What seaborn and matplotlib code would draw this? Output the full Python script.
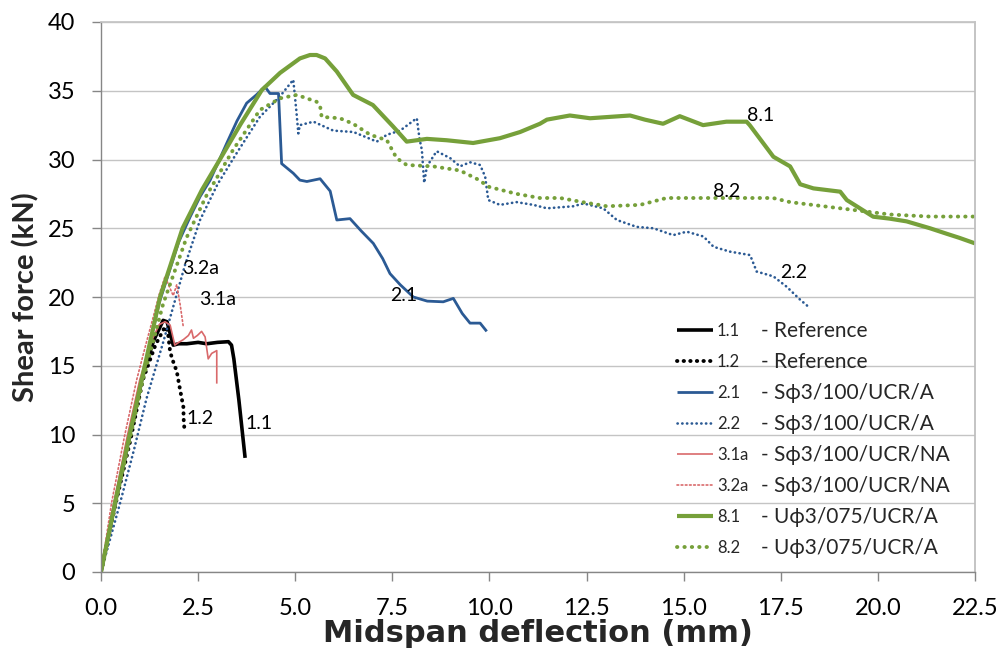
import matplotlib
matplotlib.use("Agg")
import matplotlib.pyplot as plt
import seaborn as sns
import numpy as np

# ---------------- data (deflection mm, shear force kN) ----------------
x_11 = [0, 0.36, 0.7, 1.05, 1.35, 1.6, 1.7, 1.86, 2.0, 2.21, 2.5, 2.72, 3.0, 3.28, 3.36, 3.42, 3.55, 3.71]
y_11 = [0, 5, 9.5, 14, 16.8, 18.3, 18.2, 16.5, 16.6, 16.6, 16.7, 16.6, 16.7, 16.75, 16.5, 15.5, 12.5, 8.3]

x_12 = [0, 0.38, 0.75, 1.08, 1.4, 1.65, 1.72, 1.78, 1.87, 1.95, 2.02, 2.08, 2.12, 2.13, 2.15]
y_12 = [0, 5, 9.5, 14, 16.5, 17.85, 17.5, 16.0, 15.2, 14.6, 13.5, 12.6, 12.0, 11.0, 10.3]

x_21 = [0, 0.37, 0.7, 1.05, 1.5, 2.0, 2.29, 2.55, 2.81, 3.05, 3.24, 3.5, 3.75, 4.0, 4.22, 4.35,
        4.57, 4.65, 4.95, 5.12, 5.3, 5.64, 5.9, 6.07, 6.41, 6.7, 7.01, 7.25, 7.44, 7.7, 8.04, 8.4,
        8.81, 9.07, 9.3, 9.5, 9.76, 9.93]
y_21 = [0, 5, 9.3, 14, 19.6, 24.0, 25.8, 27.3, 28.5, 30.0, 31.2, 32.8, 34.1, 34.7, 35.3, 34.8,
        34.8, 29.7, 29.0, 28.5, 28.4, 28.6, 27.7, 25.6, 25.7, 24.8, 23.9, 22.8, 21.7, 20.9, 20.0, 19.7,
        19.65, 19.9, 18.8, 18.1, 18.1, 17.5]

x_22 = [0, 0.49, 0.85, 1.17, 1.6, 2.16, 2.55, 3.0, 3.49, 4.09, 4.61, 4.95, 5.03, 5.08, 5.12, 5.47,
        5.98, 6.5, 7.1, 7.36, 7.7, 8.08, 8.13, 8.2, 8.26, 8.32, 8.39, 8.64, 8.99, 9.24, 9.5, 9.76,
        9.89, 9.97, 10.27, 10.7, 11.13, 11.48, 12.16, 12.42, 12.93, 13.28, 13.79, 14.22, 14.73,
        15.08, 15.51, 15.77, 16.19, 16.71, 16.88, 17.31, 17.65, 18.0, 18.25]
y_22 = [0, 5, 8.9, 12.6, 16.7, 22.3, 25.6, 28.2, 30.45, 33.1, 34.6, 35.8, 33.5, 31.9, 32.5, 32.75,
        32.1, 32.0, 31.3, 31.8, 32.1, 32.9, 33.0, 31.5, 30.7, 28.3, 29.5, 30.6, 30.1, 29.5, 29.8, 29.6,
        28.75, 27.05, 26.7, 26.9, 26.7, 26.45, 26.6, 26.8, 26.45, 25.6, 25.1, 25.0, 24.5,
        24.75, 24.4, 23.65, 23.3, 23.05, 21.85, 21.5, 20.75, 19.8, 19.2]

x_31a = [0, 0.33, 0.67, 1.0, 1.3, 1.5, 1.65, 1.78, 1.9, 2.0, 2.12, 2.25, 2.33, 2.38, 2.48, 2.59,
         2.68, 2.76, 2.85, 2.98, 2.98]
y_31a = [0, 5, 9.8, 14, 16.8, 18.0, 18.2, 17.96, 16.5, 16.7, 16.9, 17.2, 17.6, 17.0, 17.2, 17.5,
         17.1, 15.5, 15.9, 16.1, 13.7]

x_32a = [0, 0.27, 0.6, 0.92, 1.15, 1.35, 1.5, 1.65, 1.75, 1.86, 1.95, 2.04, 2.12]
y_32a = [0, 5, 9.8, 14, 16.5, 18.6, 20.2, 21.5, 20.8, 20.1, 20.9, 19.4, 17.8]

x_81 = [0, 0.36, 0.7, 1.05, 1.52, 2.1, 2.6, 3.06, 3.6, 4.14, 4.61, 5.12, 5.38, 5.55, 5.77, 6.07,
        6.49, 7.0, 7.52, 7.87, 8.39, 8.9, 9.58, 10.27, 10.79, 11.3, 11.48, 12.07, 12.59, 13.1,
        13.62, 14.0, 14.47, 14.9, 15.5, 16.1, 16.62, 16.7, 17.31, 17.74, 18.0, 18.34, 19.03, 19.2,
        19.88, 20.3, 20.74, 21.34, 21.77, 22.1, 22.5]
y_81 = [0, 5, 9.5, 14, 20, 25, 27.8, 30, 32.6, 35.05, 36.3, 37.35, 37.6, 37.6, 37.35, 36.4,
        34.7, 33.96, 32.4, 31.3, 31.5, 31.4, 31.2, 31.55, 32.0, 32.6, 32.9, 33.2, 33.0, 33.1,
        33.2, 32.9, 32.6, 33.15, 32.5, 32.75, 32.75, 32.5, 30.2, 29.5, 28.2, 27.9, 27.66, 27.05,
        25.84, 25.7, 25.5, 25.0, 24.6, 24.3, 23.9]

x_82 = [0, 0.37, 0.72, 1.08, 1.6, 2.2, 2.7, 3.4, 4.09, 4.61, 5.04, 5.55, 5.64, 5.68, 6.15, 6.49,
        6.93, 7.36, 7.61, 7.87, 8.55, 9.24, 9.67, 10.0, 10.7, 11.3, 11.82, 12.4, 13.02, 13.88,
        14.56, 15.5, 16.62, 17.3, 17.74, 18.6, 19.46, 20.31, 21.34, 22.5]
y_82 = [0, 5, 9.4, 14, 19.5, 24.3, 27.3, 30.7, 33.6, 34.45, 34.7, 34.2, 33.9, 33.1, 33.0, 32.6,
        31.8, 31.4, 30.1, 29.6, 29.5, 29.2, 28.6, 28.0, 27.5, 27.2, 27.2, 26.9, 26.6, 26.7,
        27.2, 27.2, 27.2, 27.2, 26.9, 26.6, 26.3, 26.0, 25.85, 25.85]

series_ids = ["1.1", "1.2", "2.1", "2.2", "3.1a", "3.2a", "8.1", "8.2"]
series_desc = ["- Reference", "- Reference", "- S\u03d53/100/UCR/A", "- S\u03d53/100/UCR/A",
               "- S\u03d53/100/UCR/NA", "- S\u03d53/100/UCR/NA", "- U\u03d53/075/UCR/A", "- U\u03d53/075/UCR/A"]

x_ticks = [0.0, 2.5, 5.0, 7.5, 10.0, 12.5, 15.0, 17.5, 20.0, 22.5]
y_ticks = [0, 5, 10, 15, 20, 25, 30, 35, 40]

# curve-end annotations: (text, x, y)
annotations = [("1.1", 3.73, 10.8), ("1.2", 2.21, 11.2), ("2.1", 7.44, 20.1), ("2.2", 17.48, 21.8),
               ("8.1", 16.63, 33.2), ("8.2", 15.76, 27.7), ("3.2a", 2.09, 22.1), ("3.1a", 2.52, 19.8)]

# ---------------- styling ----------------
sns.set_theme(style="white")
plt.rcParams['font.family'] = ['Lato', 'DejaVu Sans']

BLACK = "#000000"
BLUE = "#2B5A94"
RED = "#D9696B"
GREEN = "#76A03A"

styles = {
    "1.1": dict(color=BLACK, lw=2.6, ls="-"),
    "1.2": dict(color=BLACK, lw=2.8, ls=(0, (0.1, 1.6))),
    "2.1": dict(color=BLUE, lw=2.0, ls="-"),
    "2.2": dict(color=BLUE, lw=1.9, ls=(0, (0.1, 1.7))),
    "3.1a": dict(color=RED, lw=1.2, ls="-"),
    "3.2a": dict(color=RED, lw=1.2, ls=(0, (1, 1.5))),
    "8.1": dict(color=GREEN, lw=3.0, ls="-"),
    "8.2": dict(color=GREEN, lw=2.8, ls=(0, (0.1, 1.8))),
}
data = {"1.1": (x_11, y_11), "1.2": (x_12, y_12), "2.1": (x_21, y_21), "2.2": (x_22, y_22),
        "3.1a": (x_31a, y_31a), "3.2a": (x_32a, y_32a), "8.1": (x_81, y_81), "8.2": (x_82, y_82)}

fig = plt.figure(figsize=(10.03, 6.57), dpi=100)
ax = fig.add_axes([101 / 1003, 1 - 572 / 657, (975 - 101) / 1003, (572 - 22) / 657])

for sid in series_ids:
    xs, ys = data[sid]
    st = styles[sid]
    sns.lineplot(x=xs, y=ys, ax=ax, sort=False, estimator=None, color=st["color"],
                 linewidth=st["lw"], linestyle=st["ls"], label=sid,
                 dash_capstyle="round", solid_capstyle="butt")

ax.set_xlim(0, 22.5)
ax.set_ylim(0, 40)
ax.set_xticks(x_ticks)
ax.set_xticklabels([f"{v:.1f}" for v in x_ticks], fontsize=17)
ax.set_yticks(y_ticks)
ax.set_yticklabels([str(v) for v in y_ticks], fontsize=17)
ax.yaxis.grid(True, color="#C4C4C4", lw=1.0)
ax.xaxis.grid(False)
ax.set_axisbelow(True)
for s in ["left", "bottom"]:
    ax.spines[s].set_color("#868686")
    ax.spines[s].set_linewidth(1.0)
ax.spines["right"].set_color("#BDBDBD")
ax.spines["top"].set_color("#C4C4C4")
ax.tick_params(axis="both", which="major", direction="out", length=6.5, width=1,
               color="#868686", labelcolor="#000000", bottom=True, left=True)
ax.tick_params(axis="y", pad=12)
ax.tick_params(axis="x", pad=12)

ax.set_xlabel("Midspan deflection (mm)", fontsize=22, fontweight="bold", labelpad=0,
              family=['DejaVu Sans'])
ax.set_ylabel("Shear force (kN)", fontsize=21, fontweight="bold", labelpad=6)

for txt, tx, ty in annotations:
    ax.text(tx, ty, txt, fontsize=14, ha="left", va="center", color="#000000")

leg = ax.legend(loc="upper left", bbox_to_anchor=(677 / 1003, 1 - 323.3 / 657),
                bbox_transform=fig.transFigure, frameon=False, fontsize=12,
                handlelength=2.16, handletextpad=0.24, labelspacing=0.90, borderpad=0,
                borderaxespad=0)

fig.canvas.draw()
for t, desc in zip(leg.get_texts(), series_desc):
    bb = t.get_window_extent()
    yc = (bb.y0 + bb.y1) / 2 / fig.bbox.height
    fig.text(761 / 1003, yc, desc, fontsize=15, ha="left", va="center",
             family=['Lato', 'DejaVu Sans'])

fig.savefig("out.png", dpi=100)
